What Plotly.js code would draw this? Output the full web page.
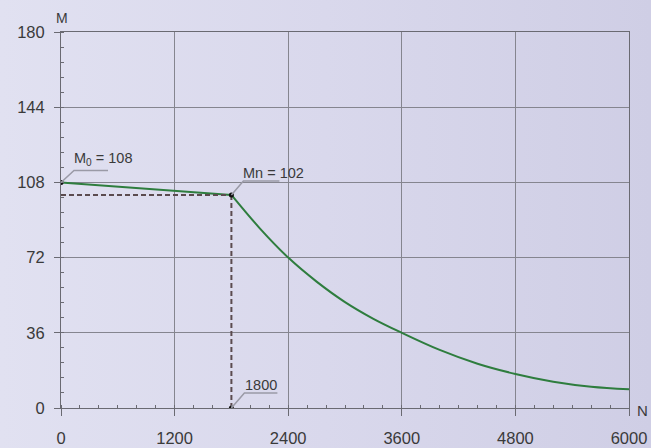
<!DOCTYPE html>
<html><head><meta charset="utf-8">
<script src="https://cdn.plot.ly/plotly-3.0.1.min.js"></script>
<style>
html,body{margin:0;padding:0;width:651px;height:448px;overflow:hidden;
background:linear-gradient(to right,#e1e1f1 0%,#d9d8ec 50%,#cfcee5 100%);}
#chart{width:651px;height:448px;}
</style></head>
<body><div id="chart"></div>
<script>
// Data
const curveN = [0, 1800, 2100, 2400, 2700, 3000, 3300, 3600, 4000, 4400, 4800, 5200, 5600, 6000];
const curveM = [108, 102, 86, 72, 60.5, 50.7, 42.7, 36, 27.8, 21.2, 16.3, 12.6, 10.2, 9];
const pointN = [0, 1800, 1800];
const pointM = [108, 102, 0];
const labelM0 = 'M<sub>0</sub> = 108';
const labelMn = 'Mn = 102';
const labelN = '1800';
const xTicks = [0, 1200, 2400, 3600, 4800, 6000];
const yTicks = [0, 36, 72, 108, 144, 180];

const green = '#2e7d3e';
const leader = '#9a9aa6';
const txt = '#3a3a3a';
const fam = 'Liberation Sans, Arial, sans-serif';
const font = {family: fam, size: 16.5, color: txt};

const traces = [
  {x: curveN.slice(0, 2), y: curveM.slice(0, 2), mode: 'lines', line: {color: green, width: 2}, hoverinfo: 'skip'},
  {x: curveN.slice(1), y: curveM.slice(1), mode: 'lines', line: {color: green, width: 2, shape: 'spline', smoothing: 1}, hoverinfo: 'skip'},
  {x: [pointN[0], pointN[1]], y: [pointM[1], pointM[1]], mode: 'lines', line: {color: '#5b4b4f', width: 2, dash: '5px,3px'}},
  {x: [pointN[1], pointN[2]], y: [pointM[1], pointM[2]], mode: 'lines', line: {color: '#5b4b4f', width: 2, dash: '5px,3px'}},
  {x: pointN, y: pointM, mode: 'markers', marker: {color: '#111', size: 5}}
];

function leaderShape(xa, ya, dx, dy, len) {
  return {type: 'path', xref: 'x', yref: 'y', xsizemode: 'pixel', ysizemode: 'pixel',
    xanchor: xa, yanchor: ya, path: `M0,0 L${dx},${dy} L${dx + len},${dy}`,
    line: {color: leader, width: 1.5}};
}

const shapes = [
  leaderShape(pointN[0], pointM[0], 13, 12, 34),
  leaderShape(pointN[1], pointM[1], 12, 14, 36),
  leaderShape(pointN[2], pointM[2], 13, 15, 33)
];

const afont = {family: fam, size: 14.5, color: txt};
const annotations = [
  {x: pointN[0], y: pointM[0], text: labelM0, showarrow: false, xanchor: 'left', yanchor: 'middle', xshift: 11, yshift: 23, font: afont},
  {x: pointN[1], y: pointM[1], text: labelMn, showarrow: false, xanchor: 'left', yanchor: 'middle', xshift: 10, yshift: 22, font: afont},
  {x: pointN[2], y: pointM[2], text: labelN, showarrow: false, xanchor: 'left', yanchor: 'middle', xshift: 12, yshift: 23, font: afont},
  {x: 0, y: 180, text: 'M', showarrow: false, xanchor: 'left', yanchor: 'middle', xshift: -7, yshift: 14, font: {family: fam, size: 14, color: txt}},
  {x: 6000, y: 0, text: 'N', showarrow: false, xanchor: 'left', yanchor: 'middle', xshift: 6, yshift: -2, font: {family: fam, size: 15, color: txt}}
];

const layout = {
  width: 651, height: 448,
  margin: {l: 60.5, r: 22, t: 31.5, b: 40, pad: 0},
  paper_bgcolor: 'rgba(0,0,0,0)', plot_bgcolor: 'rgba(0,0,0,0)',
  showlegend: false,
  font: font,
  xaxis: {range: [0, 6000], tickvals: xTicks, ticktext: xTicks.map(String), showgrid: true,
    gridcolor: '#85858f', gridwidth: 1, zeroline: false, showline: true, linecolor: '#6a6a72', linewidth: 1,
    mirror: true, ticks: 'outside', ticklen: 7, tickcolor: '#6a6a72', tickfont: font, ticklabelstandoff: 8,
    minor: {dtick: 200, tick0: 0, ticks: 'inside', ticklen: 3, tickcolor: '#6a6a72', showgrid: false}},
  yaxis: {range: [0, 180], tickvals: yTicks, ticktext: yTicks.map(String), showgrid: true,
    gridcolor: '#85858f', gridwidth: 1, zeroline: false, showline: true, linecolor: '#6a6a72', linewidth: 1,
    mirror: true, ticks: 'outside', ticklen: 6, tickcolor: '#6a6a72', tickfont: font, ticklabelstandoff: 6,
    minor: {dtick: 7.2, tick0: 0, ticks: 'inside', ticklen: 3, tickcolor: '#6a6a72', showgrid: false}},
  shapes: shapes,
  annotations: annotations
};

Plotly.newPlot('chart', traces, layout, {staticPlot: true, displayModeBar: false});
</script>
</body></html>
